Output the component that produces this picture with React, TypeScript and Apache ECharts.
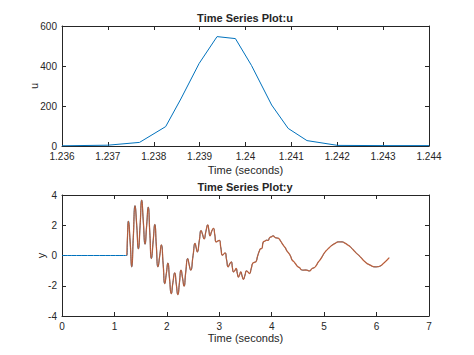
import React, { useEffect, useRef } from "react";
import * as echarts from "echarts";

const uTime = [1.236, 1.237, 1.23769, 1.23826, 1.23859, 1.23899, 1.23938, 1.23978, 1.24013, 1.24057, 1.24093, 1.24134, 1.24201, 1.243, 1.244];
const uVals = [1, 4, 18, 97, 235, 413, 547, 537, 403, 205, 88, 27, 3, 2, 2];

const yTime = [
  1.236, 1.25, 1.266, 1.3, 1.33, 1.36, 1.393, 1.425, 1.457, 1.49, 1.52, 1.55, 1.584, 1.615, 1.645, 1.675, 1.705, 1.74, 1.77, 1.8,
  1.83, 1.865, 1.895, 1.93, 1.96, 1.99, 2.02, 2.05, 2.085, 2.115, 2.15, 2.18, 2.21, 2.24, 2.27, 2.3, 2.328, 2.36, 2.398, 2.425,
  2.455, 2.5, 2.538, 2.56, 2.58, 2.62, 2.653, 2.68, 2.71, 2.745, 2.78, 2.8, 2.824, 2.855, 2.888, 2.915, 2.94, 2.97, 3.0, 3.03,
  3.06, 3.085, 3.11, 3.14, 3.17, 3.2, 3.23, 3.25, 3.27, 3.295, 3.32, 3.345, 3.365, 3.39, 3.41, 3.435, 3.46, 3.49, 3.52, 3.55,
  3.575, 3.61, 3.64, 3.67, 3.7, 3.73, 3.77, 3.79, 3.81, 3.84, 3.87, 3.9, 3.93, 3.96, 3.99, 4.03, 4.06, 4.08, 4.11, 4.13,
  4.17, 4.22, 4.26, 4.29, 4.33, 4.36, 4.39, 4.42, 4.45, 4.5, 4.53, 4.56, 4.6, 4.64, 4.67, 4.72, 4.77, 4.8, 4.83, 4.86,
  4.89, 4.92, 4.96, 5.0, 5.02, 5.08, 5.15, 5.21, 5.27, 5.34, 5.39, 5.45, 5.5, 5.59, 5.69, 5.78, 5.88, 5.97, 6.02, 6.06,
  6.13, 6.24,
];
const yVals = [
  0, 1.3, 2.27, 0.9, -0.75, 1.2, 3.29, 2.0, 0.44, 2.0, 3.66, 2.3, 0.75, 2.0, 3.2, 1.5, -0.2, 1.0, 2.05, 0.6,
  -0.75, 0.0, 0.7, -0.6, -1.86, -1.2, -0.5, -1.5, -2.52, -1.8, -1.15, -1.9, -2.58, -1.8, -0.97, -1.5, -2.03, -1.1, -0.2, -0.6,
  -0.97, 0.0, 0.8, 0.5, 0.24, 1.0, 1.65, 1.4, 1.1, 1.6, 2.02, 1.7, 1.3, 1.6, 1.79, 1.35, 0.9, 0.95, 1.0, 0.5,
  0.02, 0.1, 0.17, -0.3, -0.75, -0.55, -0.42, -0.8, -1.08, -1.0, -0.86, -1.2, -1.42, -1.25, -1.08, -1.35, -1.57, -1.3, -1.02, -1.1,
  -1.19, -0.85, -0.5, -0.45, -0.4, -0.05, 0.35, 0.45, 0.46, 0.9, 0.95, 1.01, 1.0, 1.18, 1.23, 1.3, 1.2, 1.17, 1.15, 1.13,
  0.95, 0.68, 0.5, 0.3, 0.13, -0.05, -0.31, -0.4, -0.53, -0.75, -0.8, -0.93, -0.97, -0.96, -0.97, -1.02, -0.86, -0.82, -0.75, -0.6,
  -0.42, -0.3, -0.09, 0.15, 0.24, 0.46, 0.68, 0.8, 0.9, 0.9, 0.83, 0.7, 0.57, 0.24, -0.09, -0.42, -0.64, -0.75, -0.74, -0.71,
  -0.53, -0.15,
];
const yPre = [[0, 0]];

const FONT = "Liberation Sans, Arial, sans-serif";
const AX = "#262626";

function mkX(gridIndex: number, min: number, max: number, interval: number, name: string, gap: number, fmt: (v: number) => string, top = false) {
  return {
    type: "value", gridIndex, min, max, interval, position: top ? "top" : "bottom",
    name: top ? "" : name, nameLocation: "middle", nameGap: gap, nameMoveOverlap: false,
    nameTextStyle: { fontFamily: FONT, fontSize: 11, color: AX },
    axisLine: { show: true, onZero: false, lineStyle: { color: AX, width: 1 } },
    axisTick: { show: true, inside: true, length: 4, lineStyle: { color: AX } },
    axisLabel: { show: !top, fontFamily: FONT, fontSize: 10, color: AX, margin: 5, formatter: fmt, showMinLabel: true, showMaxLabel: true },
    splitLine: { show: false },
  };
}
function mkY(gridIndex: number, min: number, max: number, interval: number, name: string, gap: number, right = false) {
  return {
    type: "value", gridIndex, min, max, interval, position: right ? "right" : "left",
    name: right ? "" : name, nameLocation: "middle", nameGap: gap, nameRotate: 90, nameMoveOverlap: false,
    nameTextStyle: { fontFamily: FONT, fontSize: 11, color: AX },
    axisLine: { show: true, onZero: false, lineStyle: { color: AX, width: 1 } },
    axisTick: { show: true, inside: true, length: 4, lineStyle: { color: AX } },
    axisLabel: { show: !right, fontFamily: FONT, fontSize: 10, color: AX, margin: 5 },
    splitLine: { show: false },
  };
}

export default function App() {
  const ref = useRef<HTMLDivElement>(null);
  useEffect(() => {
    if (!ref.current) return;
    const chart = echarts.init(ref.current, undefined, { renderer: "svg" });
    const uData = uTime.map((t, i) => [t, uVals[i]]);
    const yData = yTime.map((t, i) => [t, yVals[i]]);
    const fmt3 = (v: number) => String(parseFloat(Number(v).toFixed(3)));
    const fmt0 = (v: number) => String(Math.round(v));
    const titleStyle = { fontFamily: FONT, fontSize: 11, fontWeight: "bold", fill: AX, align: "center", verticalAlign: "middle" };
    chart.setOption({
      animation: false,
      backgroundColor: "#ffffff",
      graphic: [
        { type: "text", x: 237, y: 10, style: { ...titleStyle, text: "Time Series Plot:u" } },
        { type: "text", x: 237, y: 179, style: { ...titleStyle, text: "Time Series Plot:y" } },
      ],
      grid: [
        { left: 54, top: 18, width: 367, height: 120 },
        { left: 54, top: 187, width: 367, height: 121 },
      ],
      xAxis: [
        mkX(0, 1.236, 1.244, 0.001, "Time (seconds)", 18, fmt3),
        mkX(0, 1.236, 1.244, 0.001, "", 18, fmt3, true),
        mkX(1, 0, 7, 1, "Time (seconds)", 16, fmt0),
        mkX(1, 0, 7, 1, "", 16, fmt0, true),
      ],
      yAxis: [
        mkY(0, 0, 600, 200, "u", 23),
        mkY(0, 0, 600, 200, "", 23, true),
        mkY(1, -4, 4, 2, "y", 16),
        mkY(1, -4, 4, 2, "", 16, true),
      ],
      series: [
        { type: "line", xAxisIndex: 0, yAxisIndex: 0, data: uData, showSymbol: false, lineStyle: { color: "#0072BD", width: 1 } },
        { type: "line", xAxisIndex: 2, yAxisIndex: 2, data: yPre.concat(yData), showSymbol: false, smooth: 0.6, lineStyle: { color: "#0072BD", width: 1 } },
        { type: "line", xAxisIndex: 2, yAxisIndex: 2, data: yData, showSymbol: false, smooth: 0.6, lineStyle: { color: "#D95319", width: 1.3, opacity: 0.78 } },
      ],
    });
    return () => chart.dispose();
  }, []);
  return <div ref={ref} style={{ width: 466, height: 347 }} />;
}
